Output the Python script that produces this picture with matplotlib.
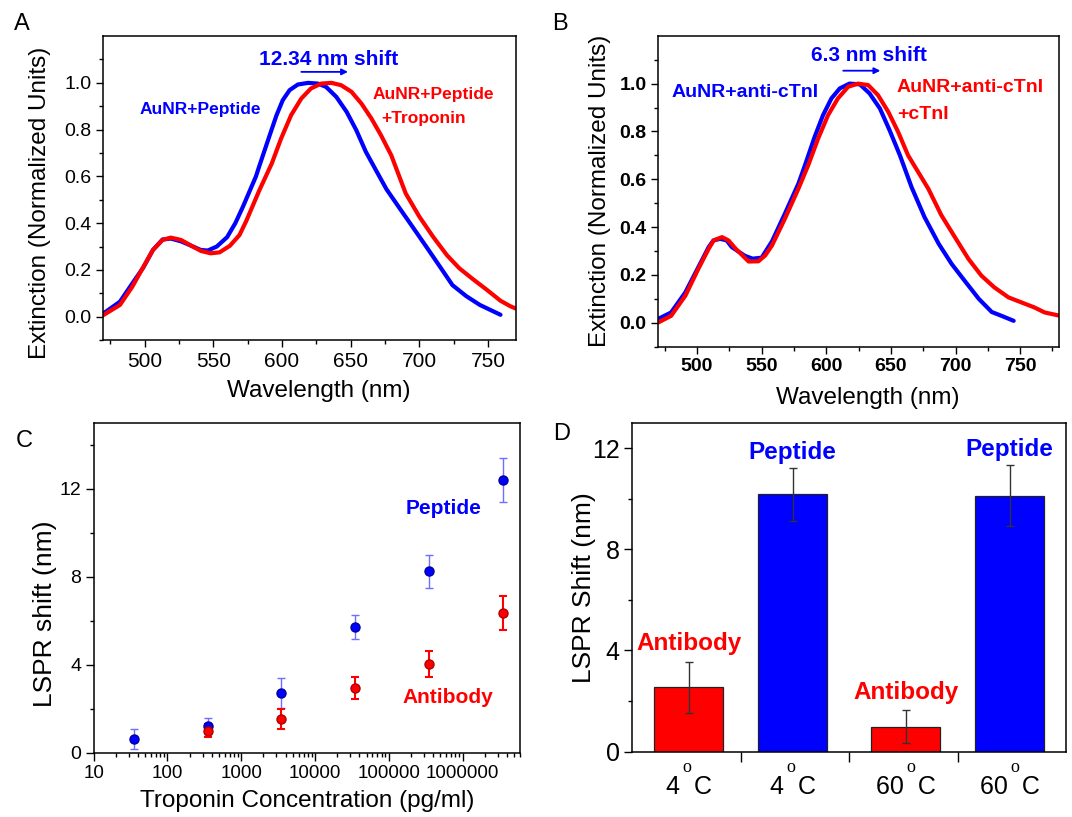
import matplotlib
matplotlib.use("Agg")
import matplotlib.pyplot as plt
from matplotlib.ticker import MultipleLocator, LogLocator, NullFormatter, FixedLocator

plt.rcParams["font.family"] = ["Liberation Sans", "DejaVu Sans"]

BLUE = "#0000ff"
RED = "#ff0000"

# --- panel A: AuNR+Peptide before / after troponin ---
wl_a_pep = [470, 482, 491, 499, 506, 513, 519, 526.5, 534, 541, 546, 552.5, 560, 566, 571.5, 581,
            583.5, 591, 596, 600.5, 605.5, 611.5, 619, 626, 632, 639.5, 647, 654, 661, 668, 676,
            686, 695, 705, 715, 724, 734, 744, 754, 759]
ext_a_pep = [0.014, 0.064, 0.142, 0.21, 0.285, 0.33, 0.334, 0.322, 0.303, 0.285, 0.283, 0.3, 0.34,
             0.40, 0.47, 0.60, 0.645, 0.776, 0.862, 0.926, 0.969, 0.993, 1.0, 0.997, 0.983, 0.94,
             0.876, 0.798, 0.705, 0.63, 0.545, 0.46, 0.384, 0.299, 0.213, 0.135, 0.088, 0.05,
             0.022, 0.008]
wl_a_trop = [470, 482, 491, 498.5, 506, 513, 519, 526.5, 534, 541, 548, 554.5, 562, 569, 574, 583.5,
             592.5, 599.3, 606.6, 614, 621, 628.5, 636, 643, 650.5, 657.7, 665, 672, 679.5, 690,
             700, 710, 720, 729, 739, 749, 759, 766, 770]
ext_a_trop = [0.007, 0.05, 0.128, 0.207, 0.285, 0.328, 0.338, 0.328, 0.303, 0.281, 0.271, 0.275,
              0.303, 0.349, 0.41, 0.541, 0.655, 0.762, 0.862, 0.933, 0.976, 0.997, 1.0, 0.99,
              0.962, 0.912, 0.848, 0.776, 0.69, 0.527, 0.427, 0.341, 0.263, 0.207, 0.16, 0.115,
              0.068, 0.045, 0.035]

# --- panel B: AuNR+anti-cTnI before / after cTnI ---
wl_b_ab = [470, 480, 491, 501, 509, 512.7, 518, 523, 527, 537, 543, 550, 558, 568, 578.5, 583.5,
           591, 597.5, 604, 610.5, 618, 626, 633.5, 641.5, 649, 657, 666, 676, 687, 697, 707,
           718, 728, 736, 745]
ext_b_ab = [0.016, 0.043, 0.127, 0.232, 0.316, 0.344, 0.351, 0.344, 0.316, 0.28, 0.268, 0.272,
            0.34, 0.456, 0.582, 0.658, 0.777, 0.868, 0.938, 0.98, 1.0, 0.997, 0.959, 0.896,
            0.805, 0.7, 0.567, 0.442, 0.33, 0.246, 0.176, 0.1, 0.045, 0.028, 0.008]
wl_b_ctni = [470, 480, 491, 501, 509, 513, 519.4, 524.4, 530, 540, 547.5, 552.7, 558, 568, 578.5,
             586, 593.7, 601.4, 609, 617, 624.6, 632.4, 640, 648, 655.6, 663.3, 679, 689, 699.5,
             710, 720, 730, 741, 751, 761, 769, 780]
ext_b_ctni = [0.001, 0.029, 0.113, 0.225, 0.309, 0.345, 0.358, 0.344, 0.309, 0.256, 0.257, 0.281,
              0.323, 0.435, 0.561, 0.658, 0.77, 0.868, 0.938, 0.987, 1.0, 0.994, 0.952, 0.882,
              0.798, 0.7, 0.56, 0.45, 0.358, 0.267, 0.197, 0.148, 0.106, 0.085, 0.064, 0.043,
              0.03]

# --- panel C: LSPR shift vs troponin concentration ---
conc_pep = [35, 350, 3500, 35000, 350000, 3500000]
shift_pep = [0.62, 1.21, 2.73, 5.71, 8.24, 12.39]
err_pep = [0.45, 0.35, 0.68, 0.54, 0.75, 1.0]
conc_ab = [350, 3500, 35000, 350000, 3500000]
shift_ab = [1.0, 1.53, 2.95, 4.02, 6.36]
err_ab = [0.29, 0.45, 0.5, 0.59, 0.77]

# --- panel D: temperature stability ---
bar_temps = ["4", "4", "60", "60"]
bar_names = ["Antibody", "Peptide", "Antibody", "Peptide"]
bar_shift = [2.54, 10.17, 0.99, 10.12]
bar_err = [1.02, 1.06, 0.65, 1.2]


def style_spectrum(ax, xmax, bold):
    ax.set_xlim(470, xmax)
    ax.set_ylim(-0.1, 1.2)
    weight = "bold" if bold else "normal"
    xt = [500, 550, 600, 650, 700, 750]
    yt = [0.0, 0.2, 0.4, 0.6, 0.8, 1.0]
    ax.set_xticks(xt, [str(v) for v in xt], fontsize=14 if bold else 15, fontweight=weight)
    ax.set_yticks(yt, [f"{v:.1f}" for v in yt], fontsize=14, fontweight=weight)
    ax.xaxis.set_minor_locator(MultipleLocator(25))
    ax.yaxis.set_minor_locator(FixedLocator([-0.1, 0.1, 0.3, 0.5, 0.7, 0.9, 1.1]))
    ax.tick_params(which="major", direction="out", length=5, width=1)
    ax.tick_params(which="minor", direction="out", length=3, width=1)
    for s in ax.spines.values():
        s.set_linewidth(1.1)
    ax.set_xlabel("Wavelength (nm)", fontsize=17.5)
    ax.set_ylabel("Extinction (Normalized Units)", fontsize=17.5)


fig = plt.figure(figsize=(10.72, 8.17), dpi=100)
line_kw = dict(lw=3, solid_capstyle="round", solid_joinstyle="round")

# panel A
axA = fig.add_axes([0.0965, 0.5838, 0.3845, 0.372])
axA.plot(wl_a_pep, ext_a_pep, color=BLUE, **line_kw)
axA.plot(wl_a_trop, ext_a_trop, color=RED, **line_kw)
style_spectrum(axA, 770, False)
axA.xaxis.set_label_coords(0.522, -0.132)
axA.yaxis.set_label_coords(-0.128, 0.45)
axA.text(634, 1.076, "12.34 nm shift", color=BLUE, fontsize=15, fontweight="bold",
         ha="center", va="baseline")
axA.annotate("", xy=(650, 1.047), xytext=(612, 1.047),
             arrowprops=dict(arrowstyle="-|>", color=BLUE, lw=1.3, mutation_scale=9))
axA.text(496, 0.865, "AuNR+Peptide", color=BLUE, fontsize=12.5, fontweight="bold", va="baseline")
axA.text(666, 0.929, "AuNR+Peptide", color=RED, fontsize=12.5, fontweight="bold", va="baseline")
axA.text(672, 0.829, "+Troponin", color=RED, fontsize=12.5, fontweight="bold", va="baseline")

# panel B
axB = fig.add_axes([0.614, 0.5757, 0.3738, 0.3805])
axB.plot(wl_b_ab, ext_b_ab, color=BLUE, **line_kw)
axB.plot(wl_b_ctni, ext_b_ctni, color=RED, **line_kw)
style_spectrum(axB, 780, True)
axB.xaxis.set_label_coords(0.523, -0.129)
axB.yaxis.set_label_coords(-0.1175, 0.5)
axB.text(632.7, 1.094, "6.3 nm shift", color=BLUE, fontsize=15, fontweight="bold",
         ha="center", va="baseline")
axB.annotate("", xy=(644, 1.054), xytext=(611, 1.054),
             arrowprops=dict(arrowstyle="-|>", color=BLUE, lw=1.3, mutation_scale=9))
axB.text(480, 0.945, "AuNR+anti-cTnI", color=BLUE, fontsize=14, fontweight="bold", va="baseline")
axB.text(654.6, 0.966, "AuNR+anti-cTnI", color=RED, fontsize=14, fontweight="bold", va="baseline")
axB.text(654.6, 0.854, "+cTnI", color=RED, fontsize=14, fontweight="bold", va="baseline")

# panel C
axC = fig.add_axes([0.0874, 0.0787, 0.3977, 0.4039])
axC.errorbar(conc_pep, shift_pep, yerr=err_pep, fmt="o", color=BLUE, ms=6.5, mec="#00009a",
             ecolor="#6f6fff", elinewidth=1, capsize=3, capthick=1)
axC.errorbar(conc_ab, shift_ab, yerr=err_ab, fmt="o", color=RED, ms=6.5, mec="#b00000",
             ecolor=RED, elinewidth=1.5, capsize=3, capthick=1.5)
axC.set_xscale("log")
axC.set_xlim(10, 6e6)
axC.set_ylim(0, 15)
xt = [10, 100, 1000, 10000, 100000, 1000000]
axC.set_xticks(xt, [str(v) for v in xt], fontsize=13.5)
axC.xaxis.set_minor_locator(LogLocator(base=10, subs=range(2, 10), numticks=20))
axC.xaxis.set_minor_formatter(NullFormatter())
axC.set_yticks([0, 4, 8, 12], ["0", "4", "8", "12"], fontsize=14)
axC.yaxis.set_minor_locator(FixedLocator([2, 6, 10, 14]))
axC.tick_params(which="major", direction="out", length=5.5, width=1)
axC.tick_params(which="minor", direction="out", length=3, width=1)
for s in axC.spines.values():
    s.set_linewidth(1.1)
axC.set_xlabel("Troponin Concentration (pg/ml)", fontsize=17.5)
axC.set_ylabel("LSPR shift (nm)", fontsize=19)
axC.xaxis.set_label_coords(0.501, -0.113)
axC.yaxis.set_label_coords(-0.0866, 0.422)
axC.text(5.5e5, 10.85, "Peptide", color=BLUE, fontsize=15, fontweight="bold",
         ha="center", va="baseline")
axC.text(6.3e5, 2.245, "Antibody", color=RED, fontsize=15, fontweight="bold",
         ha="center", va="baseline")

# panel D
axD = fig.add_axes([0.5898, 0.0799, 0.4046, 0.4027])
pos = [1.02, 1.98, 3.02, 3.98]
colors = [RED if n == "Antibody" else BLUE for n in bar_names]
axD.bar(pos, bar_shift, width=0.64, color=colors, edgecolor="#222222", linewidth=0.9,
        yerr=bar_err, error_kw=dict(ecolor="#333333", elinewidth=1, capsize=3, capthick=1))
axD.set_xlim(0.5, 4.5)
axD.set_ylim(0, 13)
axD.set_yticks([0, 4, 8, 12], ["0", "4", "8", "12"], fontsize=18)
axD.yaxis.set_minor_locator(FixedLocator([2, 6, 10]))
axD.set_xticks(pos, [t + "  C" for t in bar_temps], fontsize=18)
axD.xaxis.set_minor_locator(FixedLocator([1.5, 2.5, 3.5]))
axD.tick_params(axis="x", which="major", length=0, pad=17)
axD.tick_params(axis="x", which="minor", direction="out", length=7, width=1)
axD.tick_params(axis="y", which="major", direction="out", length=5.5, width=1)
axD.tick_params(axis="y", which="minor", direction="out", length=3, width=1)
for s in axD.spines.values():
    s.set_linewidth(1.1)
axD.set_ylabel("LSPR Shift (nm)", fontsize=19)
axD.yaxis.set_label_coords(-0.0837, 0.5)
for p, t in zip(pos, bar_temps):
    dx = -0.02 if len(t) == 1 else 0.05
    axD.text(p + dx, -0.047, "o", transform=axD.get_xaxis_transform(), fontsize=13,
             family="Liberation Serif", ha="center", va="center")
for p, v, e, n, c in zip(pos, bar_shift, bar_err, bar_names, colors):
    top = v + e + 0.35 if n == "Peptide" else v + e + 0.45
    axD.text(p, top, n, color=c, fontsize=17.5, fontweight="bold", ha="center", va="baseline")

# panel letters
for letter, x, y in [("A", 13.5, 30), ("B", 552.5, 30), ("C", 15.5, 446.7), ("D", 553.6, 440)]:
    fig.text(x / 1072, 1 - y / 817, letter, fontsize=17, ha="left", va="baseline")

fig.savefig("out.png", dpi=100)
